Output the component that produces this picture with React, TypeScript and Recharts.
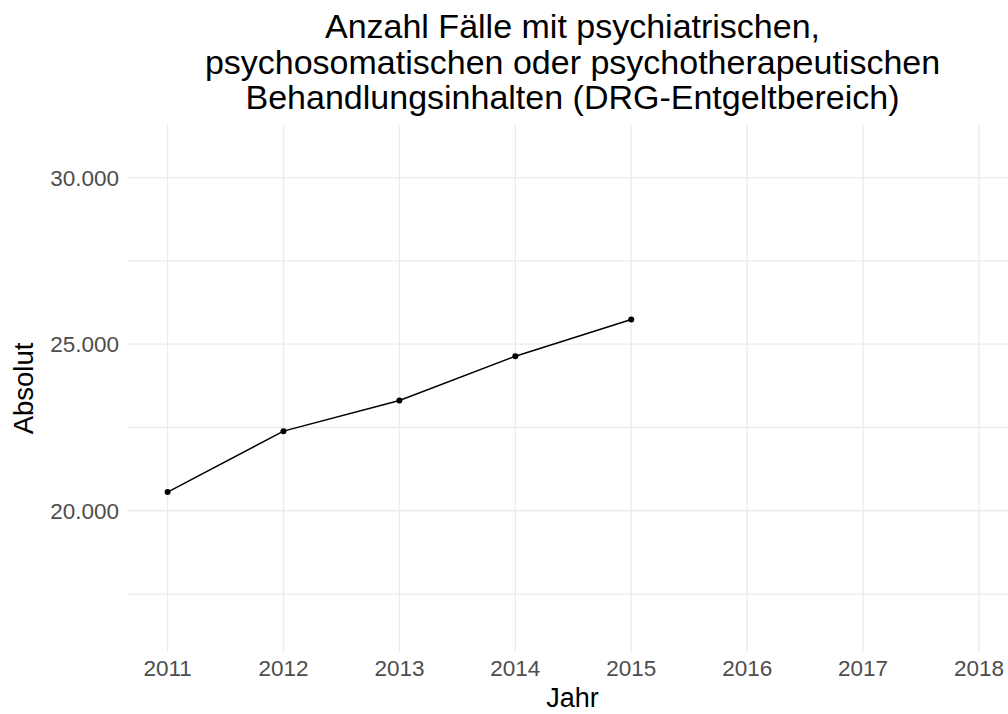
import React from 'react';
import { LineChart, Line, XAxis, YAxis, ReferenceLine } from 'recharts';

const years = [2011, 2012, 2013, 2014, 2015];
const cases = [20560, 22390, 23310, 24640, 25740];

const xTicks = [2011, 2012, 2013, 2014, 2015, 2016, 2017, 2018];
const yTicks = [17500, 20000, 22500, 25000, 27500, 30000];
const yLabelled = [20000, 25000, 30000];

const titleLines = [
  'Anzahl Fälle mit psychiatrischen,',
  'psychosomatischen oder psychotherapeutischen',
  'Behandlungsinhalten (DRG-Entgeltbereich)',
];

const data = years.map((year, i) => ({ year, value: cases[i] }));

const fmtDe = (v: number) =>
  yLabelled.includes(v) ? String(v).replace(/\B(?=(\d{3})+(?!\d))/g, '.') : '';

const FONT = '"Liberation Sans", Arial, sans-serif';
const GRID = '#EBEBEB';

export default function App() {
  return (
    <div
      style={{
        position: 'absolute',
        left: 0,
        top: 0,
        width: 1008,
        height: 714,
        overflow: 'hidden',
        background: '#fff',
        fontFamily: FONT,
      }}
    >
      <LineChart
        width={1008}
        height={714}
        data={data}
        margin={{ top: 125, right: 0, bottom: 0, left: 0 }}
      >
        <XAxis
          type="number"
          dataKey="year"
          domain={[2010.65, 2018.25]}
          ticks={xTicks}
          interval={0}
          allowDataOverflow
          axisLine={false}
          tickLine={false}
          tickSize={0}
          tickMargin={8}
          height={62}
          tick={{ fill: '#4D4D4D', fontSize: 22.5, fontFamily: FONT }}
        />
        <YAxis
          type="number"
          domain={[15760, 31580]}
          ticks={yTicks}
          interval={0}
          allowDataOverflow
          axisLine={false}
          tickLine={false}
          tickSize={0}
          tickMargin={8}
          width={127}
          tickFormatter={fmtDe}
          tick={{ fill: '#4D4D4D', fontSize: 22.5, fontFamily: FONT }}
        />
        {yTicks.map((v) => (
          <ReferenceLine key={'y' + v} y={v} stroke={GRID} strokeWidth={1.3} />
        ))}
        {xTicks.map((v) => (
          <ReferenceLine key={'x' + v} x={v} stroke={GRID} strokeWidth={1.3} />
        ))}
        <Line
          type="linear"
          dataKey="value"
          stroke="#000"
          strokeWidth={1.5}
          dot={{ r: 3, fill: '#000', stroke: '#000', strokeWidth: 0 }}
          isAnimationActive={false}
        />
      </LineChart>
      <svg
        width={1008}
        height={714}
        style={{ position: 'absolute', left: 0, top: 0, pointerEvents: 'none' }}
      >
        {titleLines.map((t, i) => (
          <text
            key={i}
            x={572.5}
            y={38 + i * 35.5}
            textAnchor="middle"
            fontSize={34}
            fontFamily={FONT}
            fill="#000"
          >
            {t}
          </text>
        ))}
        <text
          x={572.5}
          y={707}
          textAnchor="middle"
          fontSize={27}
          fontFamily={FONT}
          fill="#000"
        >
          Jahr
        </text>
        <text
          transform="translate(33,388.5) rotate(-90)"
          textAnchor="middle"
          fontSize={27.5}
          fontFamily={FONT}
          fill="#000"
        >
          Absolut
        </text>
      </svg>
    </div>
  );
}
